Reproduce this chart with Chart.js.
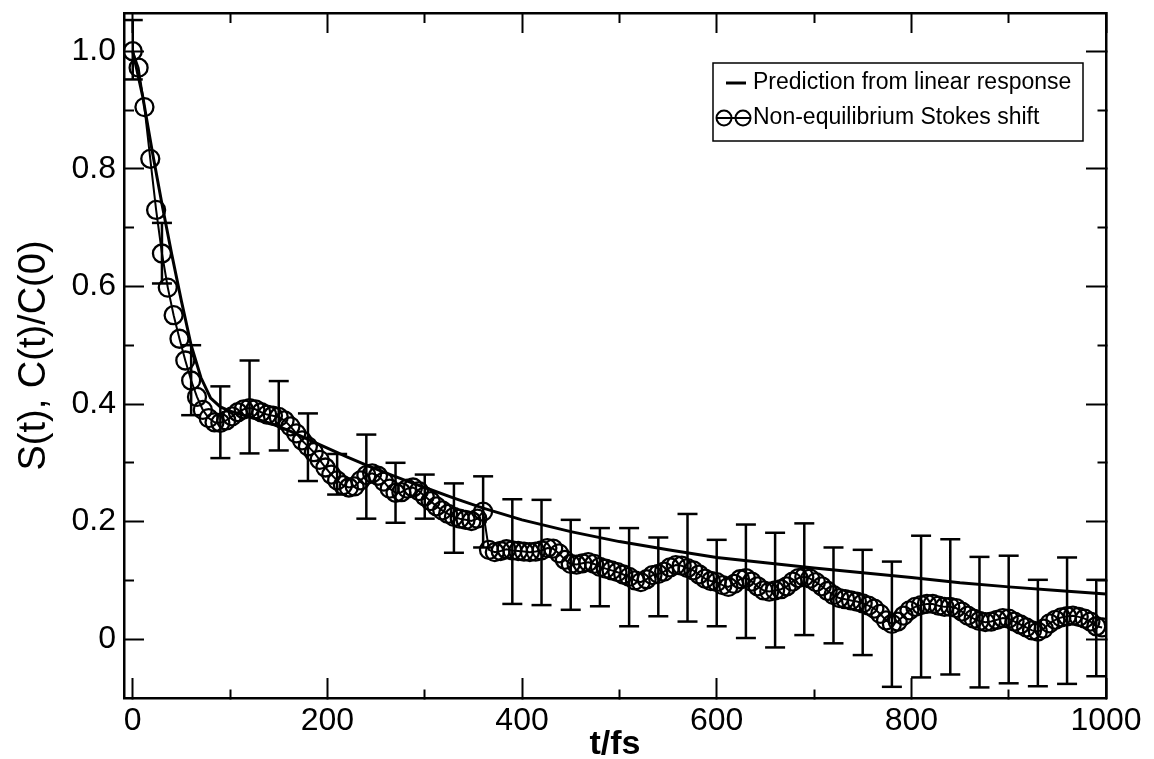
<!DOCTYPE html>
<html><head><meta charset="utf-8">
<script src="https://cdn.jsdelivr.net/npm/chart.js@4.4.1/dist/chart.umd.min.js"></script>
<style>html,body{margin:0;padding:0;background:#fff;}canvas{display:block;}</style>
</head><body>
<canvas id="c" width="1154" height="759"></canvas>
<script>
const seriesLabels = ['Prediction from linear response', 'Non-equilibrium Stokes shift'];

const stokesT = [
  0,6,12,18,24,30,36,42,48,54,
  60,66,72,78,84,90,96,102,108,114,
  120,126,132,138,144,150,156,162,168,174,
  180,186,192,198,204,210,216,222,228,234,
  240,246,252,258,264,270,276,282,288,294,
  300,306,312,318,324,330,336,342,348,354,
  360,366,372,378,384,390,396,402,408,414,
  420,426,432,438,444,450,456,462,468,474,
  480,486,492,498,504,510,516,522,528,534,
  540,546,552,558,564,570,576,582,588,594,
  600,606,612,618,624,630,636,642,648,654,
  660,666,672,678,684,690,696,702,708,714,
  720,726,732,738,744,750,756,762,768,774,
  780,786,792,798,804,810,816,822,828,834,
  840,846,852,858,864,870,876,882,888,894,
  900,906,912,918,924,930,936,942,948,954,
  960,966,972,978,984,990,996
];
const stokesY = [
  1.000,0.972,0.905,0.817,0.730,0.656,0.598,0.551,0.511,0.474,
  0.440,0.412,0.390,0.376,0.369,0.368,0.372,0.379,0.386,0.391,
  0.393,0.391,0.386,0.382,0.380,0.378,0.372,0.362,0.350,0.338,
  0.328,0.318,0.305,0.292,0.280,0.270,0.262,0.258,0.260,0.270,
  0.279,0.282,0.278,0.268,0.256,0.249,0.250,0.256,0.258,0.252,
  0.243,0.235,0.226,0.219,0.213,0.208,0.205,0.203,0.201,0.205,
  0.217,0.152,0.148,0.150,0.153,0.151,0.150,0.149,0.148,0.149,
  0.151,0.155,0.154,0.146,0.135,0.128,0.127,0.129,0.131,0.128,
  0.123,0.120,0.117,0.114,0.110,0.106,0.100,0.097,0.102,0.109,
  0.111,0.115,0.122,0.126,0.125,0.121,0.117,0.110,0.103,0.099,
  0.097,0.092,0.089,0.094,0.102,0.104,0.098,0.090,0.083,0.081,
  0.083,0.085,0.090,0.098,0.104,0.106,0.103,0.097,0.090,0.082,
  0.075,0.070,0.068,0.066,0.064,0.061,0.057,0.052,0.043,0.032,
  0.026,0.030,0.040,0.049,0.055,0.058,0.060,0.060,0.057,0.055,
  0.055,0.053,0.047,0.040,0.035,0.031,0.029,0.030,0.033,0.036,
  0.035,0.030,0.025,0.020,0.015,0.013,0.018,0.027,0.033,0.037,
  0.039,0.040,0.038,0.035,0.030,0.022,0.020
];

const predT = [0,10,20,30,40,50,60,70,80,90,100,120,140,160,180,200,220,240,260,280,300,330,360,400,450,500,550,600,650,700,750,800,850,900,950,1000];
const predY = [1.0,0.925,0.83,0.74,0.655,0.575,0.50,0.445,0.41,0.395,0.388,0.378,0.368,0.355,0.34,0.325,0.31,0.296,0.283,0.27,0.258,0.24,0.223,0.203,0.183,0.166,0.152,0.139,0.13,0.121,0.113,0.105,0.096,0.089,0.083,0.077];

const errT = [0,30,60,90,120,150,180,210,240,270,300,330,360,390,420,450,480,510,540,570,600,630,660,690,720,750,780,810,840,870,900,930,960,990];
const errHigh = [1.053,0.708,0.500,0.430,0.474,0.439,0.384,0.315,0.348,0.300,0.280,0.265,0.277,0.238,0.237,0.203,0.189,0.189,0.173,0.213,0.169,0.195,0.181,0.197,0.156,0.152,0.132,0.176,0.170,0.140,0.142,0.101,0.139,0.101];
const errLow = [0.952,0.605,0.381,0.308,0.316,0.321,0.269,0.246,0.205,0.198,0.205,0.147,0.156,0.060,0.058,0.050,0.056,0.022,0.039,0.030,0.022,0.002,-0.014,0.007,-0.007,-0.027,-0.081,-0.065,-0.060,-0.082,-0.075,-0.080,-0.076,-0.063];

const xTickValues = [0,100,200,300,400,500,600,700,800,900,1000];
const xLabelValues = [0,200,400,600,800,1000];
const yTickValues = [0,0.1,0.2,0.3,0.4,0.5,0.6,0.7,0.8,0.9,1.0];
const yLabelValues = [0,0.2,0.4,0.6,0.8,1.0];

const FONT = "'Liberation Sans', Arial, Helvetica, sans-serif";
const isMajorX = v => xLabelValues.includes(v);
const isMajorY = v => yLabelValues.some(l => Math.abs(l - v) < 1e-9);
const setTicks = vals => scale => { scale.ticks = vals.map(v => ({ value: v })); };

function axis(pos, isX) {
  const vals = isX ? xTickValues : yTickValues;
  const major = isX ? isMajorX : isMajorY;
  const startsAtAxis = (pos === 'bottom' || pos === 'right');
  const minorDash = startsAtAxis ? [10, 1000] : [0, 10, 10, 1000];
  const main = (pos === 'bottom' || pos === 'left');
  return {
    type: 'linear', position: pos,
    min: isX ? -9 : -0.1, max: isX ? 1000 : 1.065,
    afterBuildTicks: setTicks(vals),
    afterFit: s => {
      if (isX) { s.height = pos === 'bottom' ? 61 : 0; }
      else { s.width = pos === 'left' ? 124 : 0; }
      s.paddingTop = 0; s.paddingBottom = 0; s.paddingLeft = 0; s.paddingRight = 0;
    },
    border: { display: true, color: '#000', width: 2.5 },
    grid: {
      drawOnChartArea: false, drawTicks: true, tickLength: -20,
      tickWidth: 2, tickColor: '#000',
      tickBorderDash: ctx => (ctx.tick && major(ctx.tick.value)) ? [] : minorDash
    },
    ticks: main ? {
      display: true, autoSkip: false, maxRotation: 0, color: '#000',
      padding: isX ? 24 : 28,
      font: { family: FONT, size: 32 },
      callback: v => major(v) ? (isX ? String(v) : (v === 0 ? '0' : v.toFixed(1))) : ''
    } : { display: false },
    title: main ? (isX ? {
      display: true, text: 't/fs', color: '#000',
      font: { family: FONT, size: 34, weight: 'bold', lineHeight: 0.8 },
      padding: { top: 0, bottom: 1 }
    } : {
      display: true, text: 'S(t), C(t)/C(0)', color: '#000',
      font: { family: FONT, size: 38, lineHeight: 1.2 },
      padding: { top: 12, bottom: 0 }
    }) : { display: false }
  };
}

const errData = errT.flatMap((t, i) => [{ x: t, y: errLow[i] }, { x: t, y: errHigh[i] }, { x: t, y: null }]);
const stokesData = stokesT.map((t, i) => ({ x: t, y: stokesY[i] }));
const predData = predT.map((t, i) => ({ x: t, y: predY[i] }));

const legendPlugin = {
  id: 'boxLegend',
  afterDraw(chart) {
    const { ctx, chartArea } = chart;
    const boxR = chartArea.right - 23, boxL = boxR - 370, boxT = chartArea.top + 50, boxH = 78;
    ctx.save();
    ctx.strokeStyle = '#000'; ctx.fillStyle = '#fff';
    ctx.lineWidth = 1.5;
    ctx.fillRect(boxL, boxT, boxR - boxL, boxH);
    ctx.strokeRect(boxL, boxT, boxR - boxL, boxH);
    ctx.fillStyle = '#000';
    ctx.font = "23px " + FONT;
    ctx.textBaseline = 'middle'; ctx.textAlign = 'left';
    const textX = boxL + 40, row1 = boxT + 20, row2 = boxT + 55;
    ctx.lineWidth = 3;
    ctx.beginPath(); ctx.moveTo(boxL + 13, row1); ctx.lineTo(boxL + 33, row1); ctx.stroke();
    ctx.fillText(seriesLabels[0], textX, row1);
    ctx.lineWidth = 2;
    ctx.beginPath(); ctx.moveTo(boxL + 4, row2); ctx.lineTo(boxL + 37, row2); ctx.stroke();
    [boxL + 11, boxL + 30].forEach(cx => { ctx.beginPath(); ctx.arc(cx, row2, 7.5, 0, Math.PI * 2); ctx.stroke(); });
    ctx.fillText(seriesLabels[1], textX, row2);
    ctx.restore();
  }
};

new Chart(document.getElementById('c'), {
  type: 'scatter',
  data: {
    datasets: [
      {
        label: 'error bars', data: errData, showLine: true, spanGaps: false,
        borderColor: '#000', borderWidth: 2.5,
        pointStyle: 'line', pointRadius: 10, pointBorderWidth: 2.5, pointBorderColor: '#000',
        pointHoverRadius: 10
      },
      {
        label: seriesLabels[1], data: stokesData, showLine: true,
        borderColor: '#000', borderWidth: 2,
        pointStyle: 'circle', pointRadius: 9, pointBorderWidth: 2.3,
        pointBorderColor: '#000', pointBackgroundColor: 'rgba(0,0,0,0)'
      },
      {
        label: seriesLabels[0], data: predData, showLine: true,
        borderColor: '#000', borderWidth: 3, pointRadius: 0, tension: 0
      }
    ]
  },
  options: {
    responsive: false, animation: false, devicePixelRatio: 1, events: [],
    layout: { padding: { left: 0, right: 48, top: 13, bottom: 0 } },
    plugins: { legend: { display: false }, tooltip: { enabled: false } },
    scales: {
      x: axis('bottom', true),
      x2: axis('top', true),
      y: axis('left', false),
      y2: axis('right', false)
    }
  },
  plugins: [legendPlugin]
});
</script>
</body></html>
